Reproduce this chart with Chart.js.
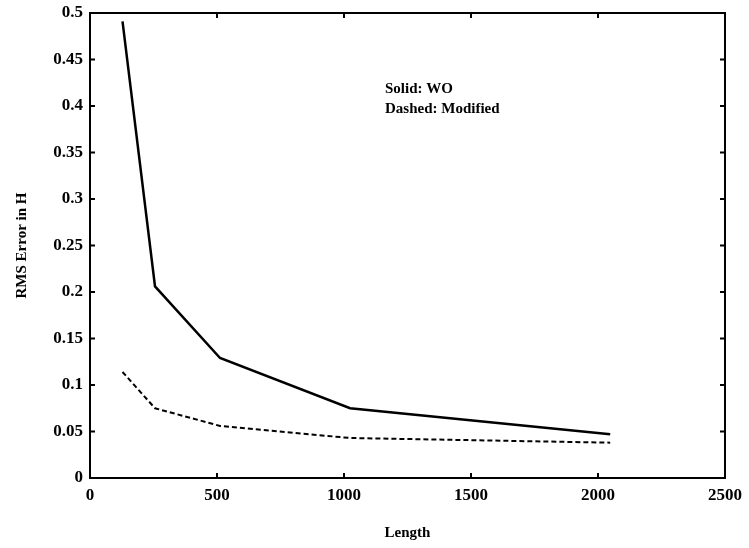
<!DOCTYPE html>
<html>
<head>
<meta charset="utf-8">
<script src="https://cdn.jsdelivr.net/npm/chart.js@4"></script>
<style>
  html, body { margin: 0; padding: 0; background: #fff; }
  #wrap { width: 749px; height: 548px; }
</style>
</head>
<body>
<div id="wrap"><canvas id="rms-chart" width="749" height="548"></canvas></div>
<script>
// values
const lengths = [128, 256, 512, 1024, 2048];
const solidWO = [0.491, 0.206, 0.129, 0.075, 0.047];
const dashedModified = [0.114, 0.075, 0.056, 0.043, 0.038];
const xTicks = [0, 500, 1000, 1500, 2000, 2500];
const yTicks = [0, 0.05, 0.1, 0.15, 0.2, 0.25, 0.3, 0.35, 0.4, 0.45, 0.5];
const noteLines = ['Solid: WO', 'Dashed: Modified'];

const serif = '"Liberation Serif", "Times New Roman", serif';

const toPoints = ys => lengths.map((x, i) => ({ x: x, y: ys[i] }));

// frame + inward ticks on all four sides, plus the text note
const framePlugin = {
    id: 'frame',
    afterDraw(chart) {
        const ctx = chart.ctx;
        const a = chart.chartArea;
        const xs = chart.scales.x, ys = chart.scales.y;
        const tl = 5;
        ctx.save();
        ctx.strokeStyle = '#000';
        ctx.lineWidth = 2;
        ctx.strokeRect(a.left, a.top, a.right - a.left, a.bottom - a.top);
        ctx.beginPath();
        xTicks.forEach(v => {
            const px = xs.getPixelForValue(v);
            ctx.moveTo(px, a.bottom); ctx.lineTo(px, a.bottom - tl);
            ctx.moveTo(px, a.top); ctx.lineTo(px, a.top + tl);
        });
        yTicks.forEach(v => {
            const py = ys.getPixelForValue(v);
            ctx.moveTo(a.left, py); ctx.lineTo(a.left + tl, py);
            ctx.moveTo(a.right, py); ctx.lineTo(a.right - tl, py);
        });
        ctx.stroke();

        ctx.fillStyle = '#000';
        ctx.font = 'bold 15px ' + serif;
        ctx.textBaseline = 'middle';
        ctx.textAlign = 'left';
        ctx.fillText(noteLines[0], 385, 89);
        ctx.fillText(noteLines[1], 385, 109);
        ctx.restore();
    }
};

new Chart(
    document.getElementById('rms-chart'),
    {
        type: 'line',
        data: {
            datasets: [
                {
                    label: 'WO',
                    data: toPoints(solidWO),
                    borderColor: '#000',
                    borderWidth: 2.5,
                    pointRadius: 0,
                    tension: 0,
                    fill: false
                },
                {
                    label: 'Modified',
                    data: toPoints(dashedModified),
                    borderColor: '#000',
                    borderWidth: 2,
                    borderDash: [5, 3],
                    pointRadius: 0,
                    tension: 0,
                    fill: false
                }
            ]
        },
        options: {
            responsive: false,
            animation: false,
            layout: { padding: { left: 0, right: 22, top: 13, bottom: 0 } },
            plugins: {
                legend: { display: false },
                tooltip: { enabled: false }
            },
            scales: {
                x: {
                    type: 'linear',
                    min: 0,
                    max: 2500,
                    afterBuildTicks: s => { s.ticks = xTicks.map(v => ({ value: v })); },
                    afterFit: s => { s.height = 70; },
                    grid: { display: false, drawTicks: false },
                    border: { display: false },
                    ticks: {
                        color: '#000',
                        padding: 7,
                        maxRotation: 0,
                        callback: v => String(v),
                        font: { family: serif, size: 17, weight: 'bold' }
                    },
                    title: {
                        display: true,
                        text: 'Length',
                        color: '#000',
                        padding: { top: 6, bottom: 6 },
                        font: { family: serif, size: 15, weight: 'bold' }
                    }
                },
                y: {
                    type: 'linear',
                    min: 0,
                    max: 0.5,
                    afterBuildTicks: s => { s.ticks = yTicks.map(v => ({ value: v })); },
                    afterFit: s => { s.width = 90; s.paddingTop = 0; s.paddingBottom = 0; },
                    grid: { display: false, drawTicks: false },
                    border: { display: false },
                    ticks: {
                        color: '#000',
                        padding: 7,
                        callback: v => String(v),
                        font: { family: serif, size: 17, weight: 'bold' }
                    },
                    title: {
                        display: true,
                        text: 'RMS Error in H',
                        color: '#000',
                        padding: { top: 13, bottom: 13 },
                        font: { family: serif, size: 15, weight: 'bold' }
                    }
                }
            }
        },
        plugins: [framePlugin]
    }
);
</script>
</body>
</html>
